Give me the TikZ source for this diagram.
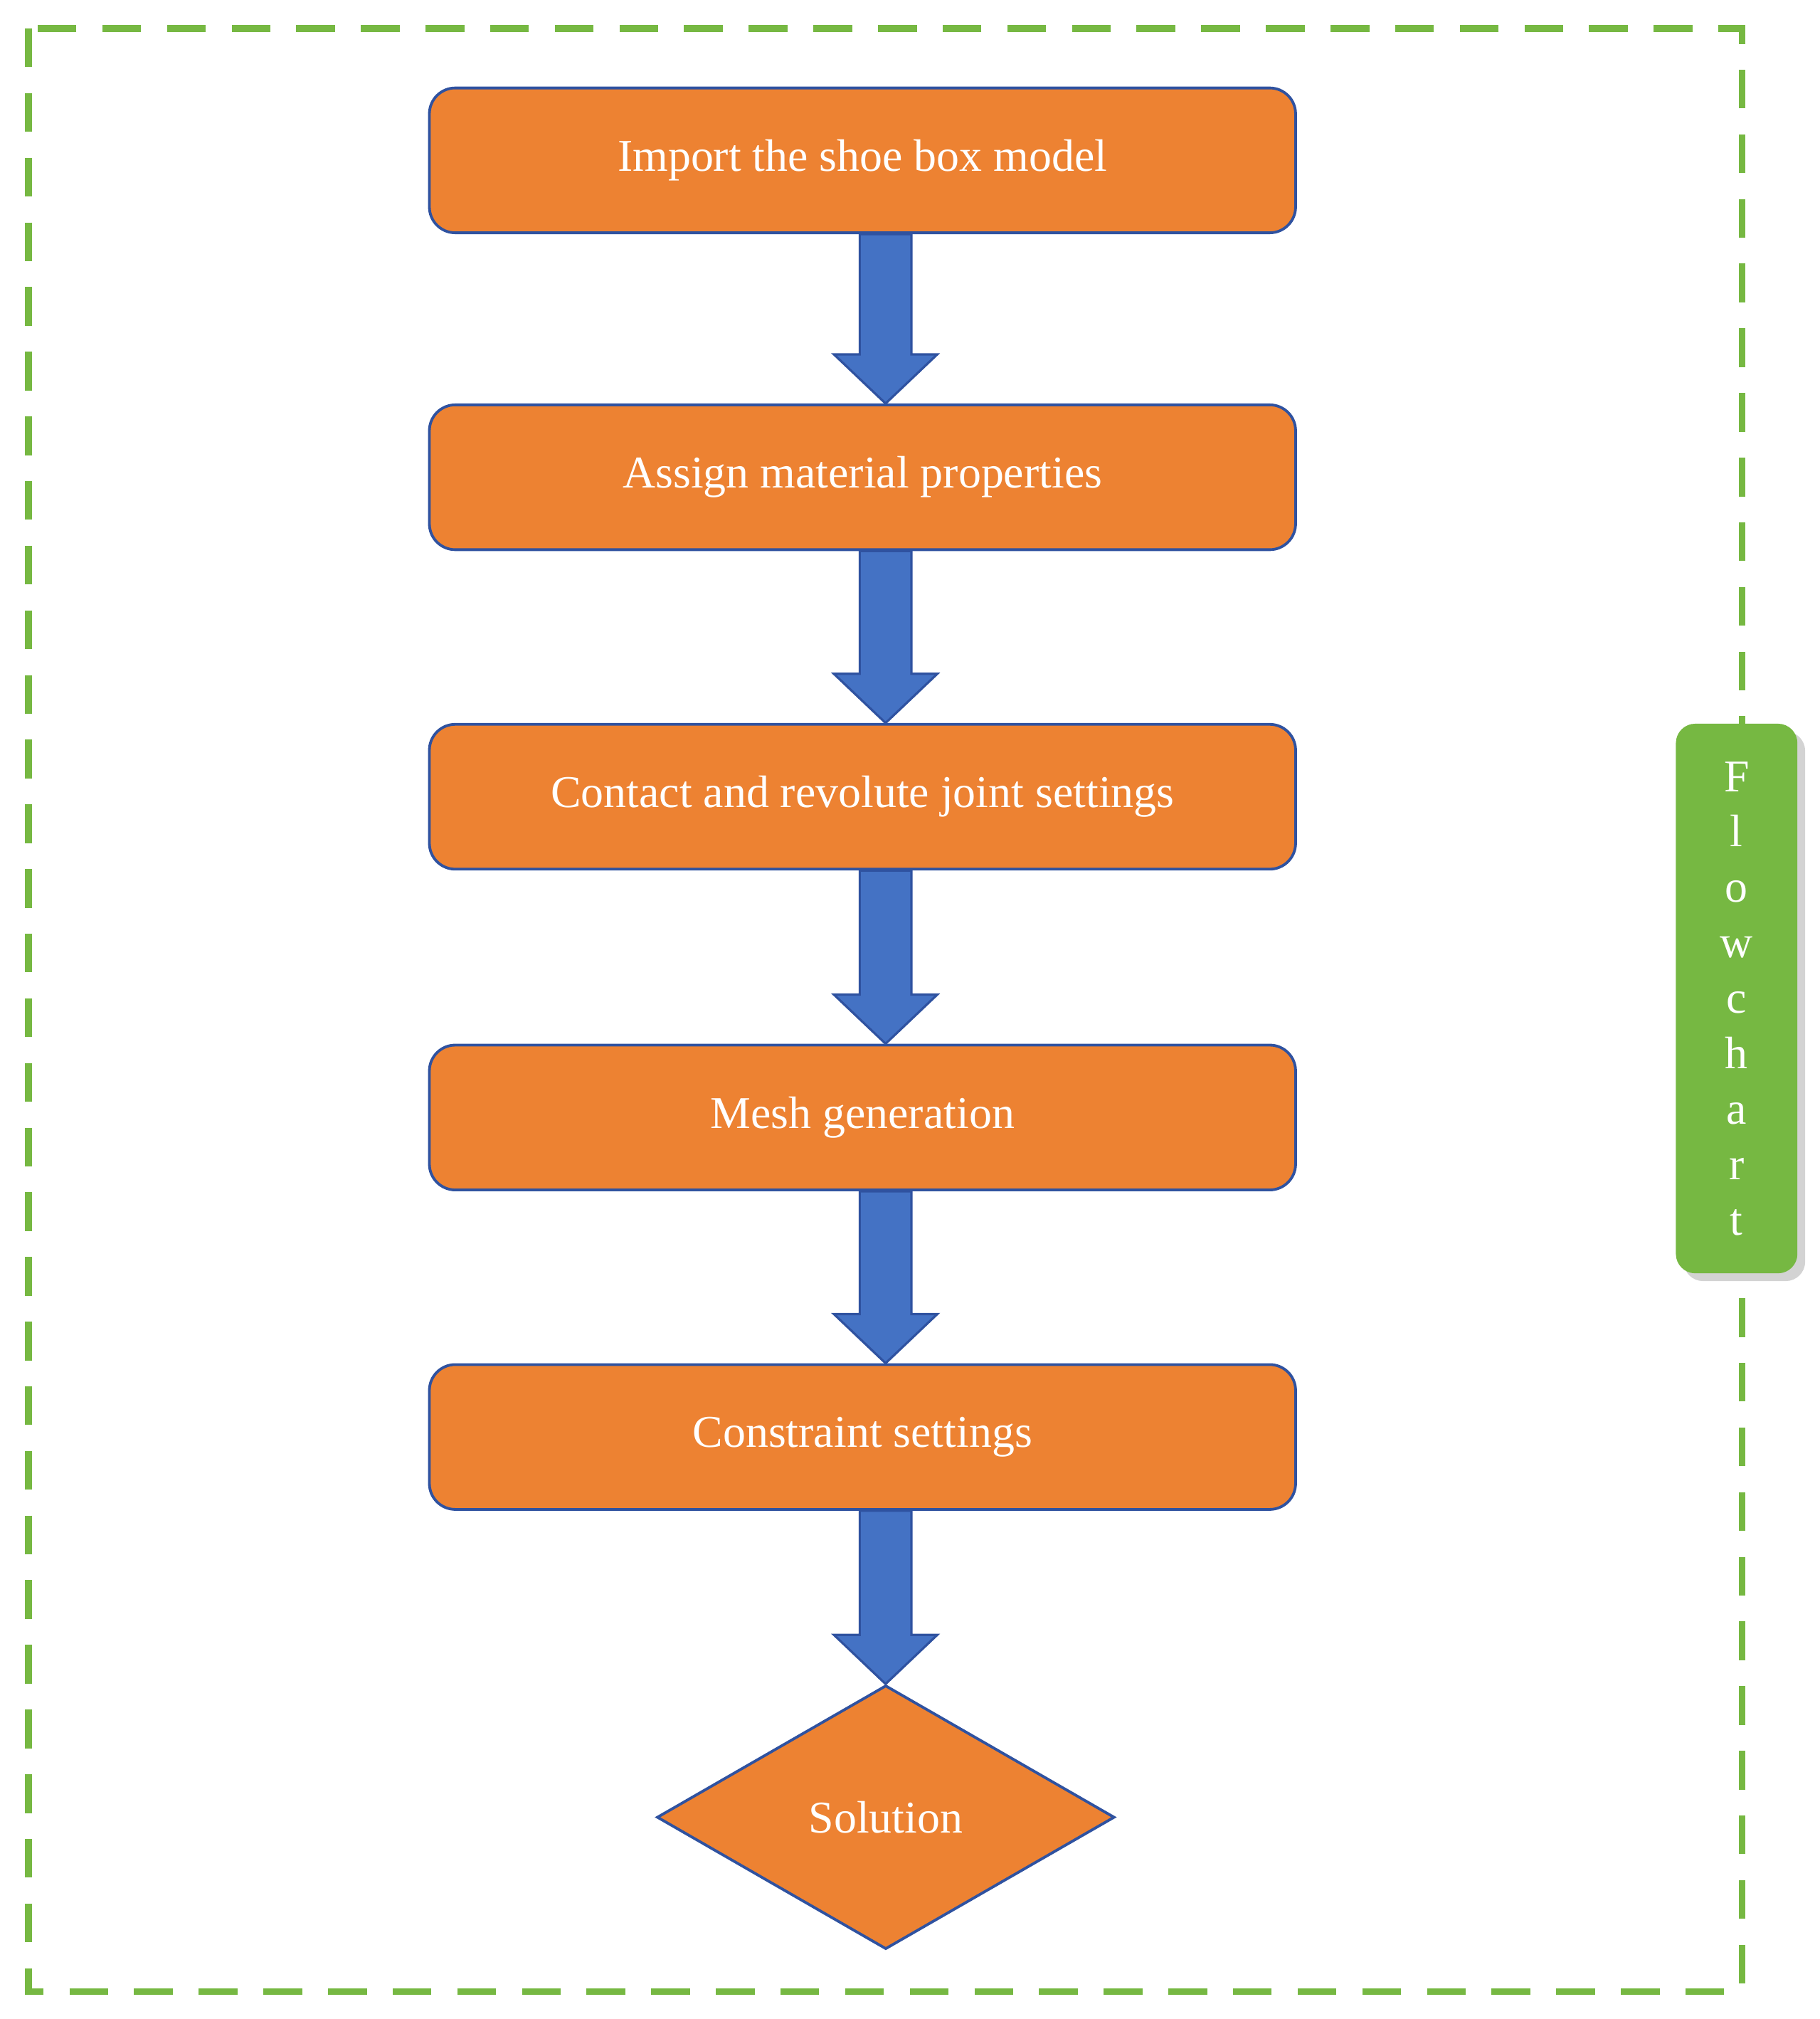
\documentclass[tikz,border=0pt]{standalone}
\usepackage{fontspec}
\setmainfont{Liberation Serif}
\usetikzlibrary{calc,shapes.geometric,shadows}
\definecolor{og}{RGB}{237,130,50}
\definecolor{bl}{RGB}{68,114,196}
\definecolor{dbl}{RGB}{47,82,160}
\definecolor{gr}{RGB}{118,184,66}
\begin{document}
\begin{tikzpicture}[x=0.02cm,y=-0.02cm,
  box/.style={draw=dbl,line width=1.2pt,fill=og,rounded corners=0.4cm,minimum width=13.4cm,minimum height=2.24cm,text=white,font=\fontsize{20}{24}\selectfont},
  arr/.style={fill=bl,draw=dbl,line width=1pt,line join=miter}]
\useasboundingbox (0,0) rectangle (1407,1561);
\draw[gr,line width=0.1cm,dash pattern=on 0.6cm off 0.4cm] (22,22) rectangle (1347,1540);
\node[box] (b1) at (667,124) {Import the shoe box model};
\node[box] (b2) at (667,369) {Assign material properties};
\node[box] (b3) at (667,616) {Contact and revolute joint settings};
\node[box] (b4) at (667,864) {Mesh generation};
\node[box] (b5) at (667,1111) {Constraint settings};
\node[diamond,draw=dbl,line width=1.2pt,fill=og,minimum width=7.08cm,minimum height=4.08cm,inner sep=0pt,text=white,font=\fontsize{20}{24}\selectfont] (d) at (685,1405) {Solution};
\foreach \a/\b in {b1/b2,b2/b3,b3/b4,b4/b5,b5/d}{
  \draw[arr] let \p1=(\a.south), \p2=(\b.north) in
    (13.3cm,\y1) -- (14.1cm,\y1) -- (14.1cm,\y2+0.76cm) -- (14.5cm,\y2+0.76cm)
    -- (13.7cm,\y2) -- (12.9cm,\y2+0.76cm) -- (13.3cm,\y2+0.76cm) -- cycle;
}
\node[fill=gr,rounded corners=0.3cm,minimum width=1.88cm,minimum height=8.5cm,
  drop shadow={shadow xshift=0.12cm,shadow yshift=-0.12cm,opacity=0.35},
  text=white,align=center,font=\fontsize{20}{24.4}\selectfont] (tab) at (1343,772)
  {F\\l\\o\\w\\c\\h\\a\\r\\t};
\end{tikzpicture}
\end{document}
